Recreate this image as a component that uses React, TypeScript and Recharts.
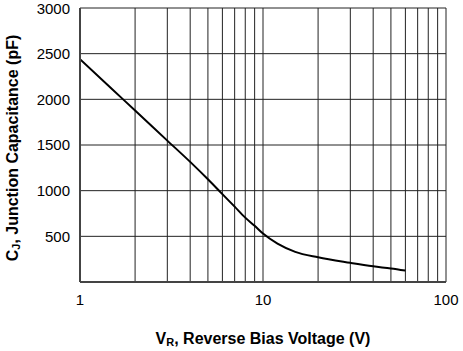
import React from "react";
import {
  LineChart,
  Line,
  XAxis,
  YAxis,
  ReferenceLine,
} from "recharts";

// reverse bias voltage (V) and junction capacitance (pF)
const voltage = [1, 1.5, 2, 3, 4, 5, 6, 7, 8, 9, 10, 12, 15, 20, 30, 40, 50, 60];
const capacitance = [2440, 2110, 1878, 1548, 1315, 1125, 962, 825, 705, 615, 530, 420, 330, 270, 210, 172, 148, 125];

const xTicks = [1, 10, 100];
const yTicks = [500, 1000, 1500, 2000, 2500, 3000];
const gridX = [2, 3, 4, 5, 6, 7, 8, 9, 10, 20, 30, 40, 50, 60, 70, 80, 90, 100];
const gridY = [500, 1000, 1500, 2000, 2500, 3000];

const data = voltage.map((v, i) => ({ v, c: capacitance[i] }));

const FONT = "'Liberation Sans', Arial, sans-serif";

const YTitle = (props: any) => {
  const vb = props.viewBox || {};
  const cx = 12;
  const cy = vb.y + vb.height / 2 + 3;
  return (
    <text
      x={cx}
      y={cy}
      transform={`rotate(-90, ${cx}, ${cy})`}
      textAnchor="middle"
      dominantBaseline="central"
      fontFamily={FONT}
      fontSize={16}
      fontWeight="bold"
      fill="#000"
    >
      C
      <tspan dy={4} fontSize={11}>J</tspan>
      <tspan dy={-4}>, Junction Capacitance (pF)</tspan>
    </text>
  );
};

const XTitle = (props: any) => {
  const vb = props.viewBox || {};
  const cx = vb.x + vb.width / 2;
  const cy = vb.y + 56;
  return (
    <text
      x={cx}
      y={cy}
      textAnchor="middle"
      dominantBaseline="central"
      fontFamily={FONT}
      fontSize={16}
      fontWeight="bold"
      fill="#000"
    >
      V
      <tspan dy={4} fontSize={11}>R</tspan>
      <tspan dy={-4}>, Reverse Bias Voltage (V)</tspan>
    </text>
  );
};

export default function App() {
  return (
    <div style={{ position: "absolute", left: 0, top: 0, background: "#fff" }}>
      <LineChart
        width={463}
        height={351}
        data={data}
        margin={{ top: 8, right: 17, left: 0, bottom: 0 }}
      >
        {gridX.map((x) => (
          <ReferenceLine key={"gx" + x} x={x} stroke="#222" strokeWidth={1} ifOverflow="visible" />
        ))}
        {gridY.map((y) => (
          <ReferenceLine key={"gy" + y} y={y} stroke="#222" strokeWidth={1} ifOverflow="visible" />
        ))}
        <XAxis
          dataKey="v"
          type="number"
          scale="log"
          domain={[1, 100]}
          ticks={xTicks}
          allowDataOverflow
          height={69}
          tickLine={false}
          tickMargin={6}
          axisLine={{ stroke: "#444", strokeWidth: 2 }}
          tick={{ fill: "#000", fontSize: 15, fontFamily: FONT }}
          label={<XTitle />}
        />
        <YAxis
          type="number"
          domain={[0, 3000]}
          ticks={yTicks}
          width={80}
          tickLine={false}
          tickMargin={4}
          axisLine={{ stroke: "#444", strokeWidth: 2 }}
          tick={{ fill: "#000", fontSize: 15, fontFamily: FONT }}
          label={<YTitle />}
        />
        <Line
          dataKey="c"
          type="monotone"
          stroke="#000"
          strokeWidth={2}
          dot={false}
          isAnimationActive={false}
        />
      </LineChart>
    </div>
  );
}
